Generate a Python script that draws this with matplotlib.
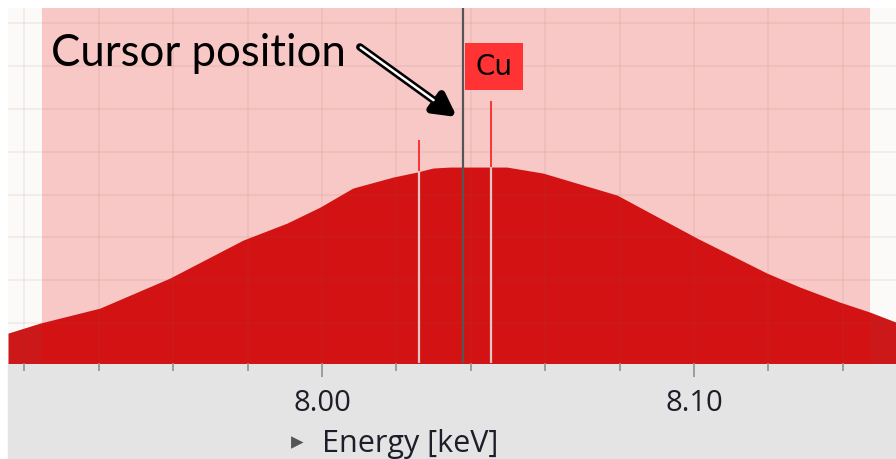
import numpy as np
import matplotlib
matplotlib.use('Agg')
import matplotlib.pyplot as plt
from matplotlib.patches import Rectangle

# spectrum envelope (energy in keV, counts)
energy = [7.9156, 7.9242, 7.9403, 7.9591, 7.9788, 7.9906, 7.9995, 8.0083,
          8.0191, 8.0255, 8.0298, 8.0344, 8.0497, 8.0594, 8.0793, 8.1008,
          8.1196, 8.1285, 8.1392, 8.1473, 8.1543]
counts = [767, 1000, 1350, 2050, 2937, 3333, 3707, 4150,
          4406, 4523, 4617, 4640, 4640, 4500, 3987, 2983,
          2167, 1840, 1490, 1257, 1023]

# Cu line markers
line_energy = [8.0262, 8.0455]
line_height = [5270, 6180]
element = 'Cu'

cursor_energy = 8.0379
region = [7.9247, 8.1473]

major_ticks = [8.00, 8.10]
minor_ticks = [7.92, 7.94, 7.96, 7.98, 8.02, 8.04, 8.06, 8.08, 8.12, 8.14]
tick_labels = ['8.00', '8.10']

fig = plt.figure(figsize=(8.96, 4.59), dpi=100)
fig.patch.set_facecolor('white')
fig.patches.append(Rectangle((8 / 896, 0), 888 / 896, 96 / 459,
                             transform=fig.transFigure, color='#e4e4e4', zorder=-1))

ax = fig.add_axes([8 / 896, 96 / 459, 888 / 896, 355 / 459])
ax.set_facecolor('#fbfaf8')
ax.set_xlim(7.9156, 8.1543)
ax.set_ylim(70, 8350)

ax.fill_between(energy, counts, 0, color='#cc1818', lw=0, zorder=1)
ax.axvspan(region[0], region[1], color='#f00000', alpha=0.2, lw=0, zorder=2)

# element lines: pale body, red above the spectrum
for e, h in zip(line_energy, line_height):
    base = np.interp(e, energy, counts)
    ax.vlines(e, 0, h, color='#e2c6c6', lw=1.6, zorder=3)
    ax.vlines(e, base, h, color='#ff1a1a', lw=1.2, zorder=3.2)

ax.axvline(cursor_energy, color='#555555', lw=1.6, zorder=4)

# Cu label box
ax.add_patch(Rectangle((8.03844, 6436), 8.05403 - 8.03844, 7533 - 6436,
                       color='#ff3333', lw=0, zorder=5))
ax.text(8.0462, 6985, element, ha='center', va='center', fontsize=20,
        family='DejaVu Sans', color='black', zorder=6)

# cursor annotation with hollow arrow
ax.text(7.9272, 6996, 'Cursor position', fontsize=31.5, family='Lato',
        va='baseline', ha='left', color='black', zorder=6)
ax.annotate('', xy=(8.0363, 5806), xytext=(8.0102, 7440),
            arrowprops=dict(arrowstyle='-|>,head_length=1.3,head_width=0.7',
                            color='black', lw=5.5, shrinkA=0, shrinkB=0), zorder=6)
ax.annotate('', xy=(8.0300, 6200), xytext=(8.0104, 7430),
            arrowprops=dict(arrowstyle='-', color='white', lw=1.8,
                            shrinkA=0, shrinkB=0), zorder=7)

ax.set_xticks(major_ticks)
ax.set_xticklabels(tick_labels, family='Open Sans', fontsize=21, color='#1e1e2a')
ax.set_xticks(minor_ticks, minor=True)
ax.set_yticks(np.arange(1000, 8001, 1000))
ax.tick_params(axis='y', left=False, labelleft=False)
ax.tick_params(axis='x', which='major', length=10, width=1.2, color='#909090', pad=9)
ax.tick_params(axis='x', which='minor', length=5.5, width=1.2, color='#909090')
ax.set_axisbelow(False)
ax.grid(True, which='both', color='#8c5a50', alpha=0.08, lw=1.4)
for s in ax.spines.values():
    s.set_visible(False)

fig.text(410 / 896, 1 - 452 / 459, 'Energy [keV]', family='Open Sans', fontsize=22,
         color='#1e1e2a', ha='center', va='baseline')
fig.text(297 / 896, 1 - 442 / 459, '\u25b8', family='DejaVu Sans', fontsize=18,
         color='#555555', ha='center', va='center')

fig.savefig('out.png', dpi=100, facecolor=fig.get_facecolor())
